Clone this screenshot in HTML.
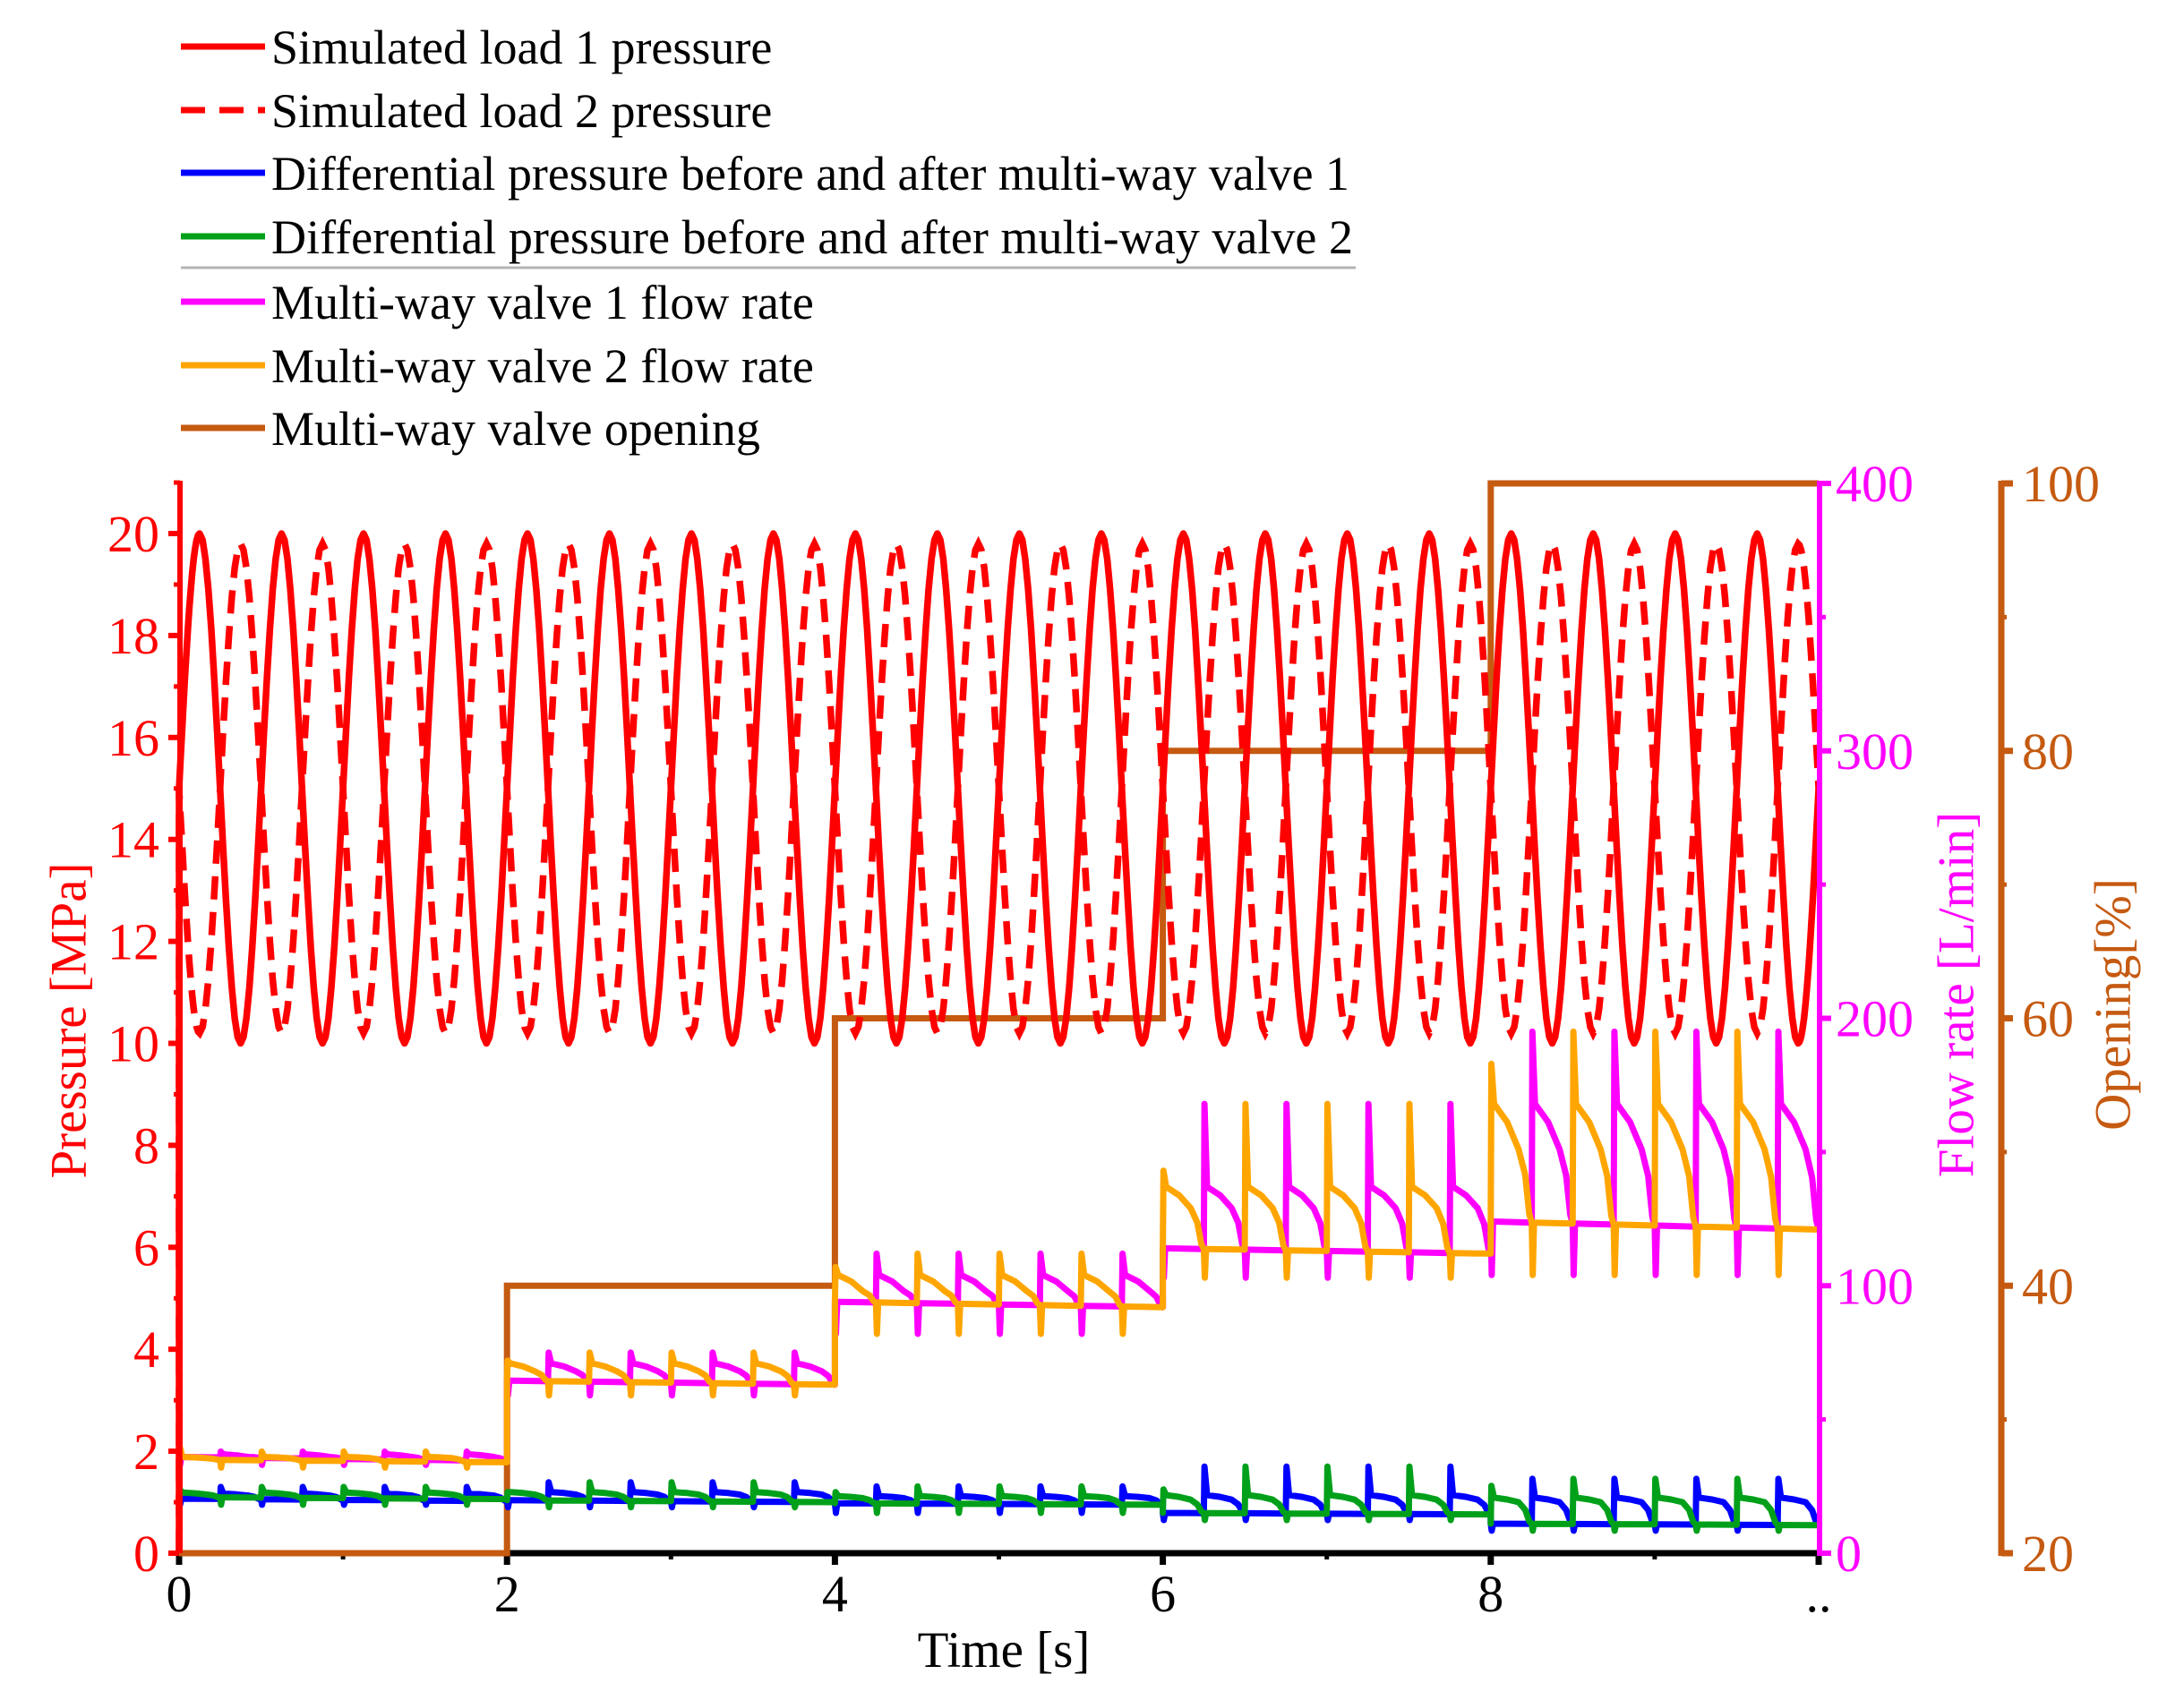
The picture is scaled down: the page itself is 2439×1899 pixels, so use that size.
<!DOCTYPE html>
<html><head><meta charset="utf-8"><style>
html,body{margin:0;padding:0;background:#fff;}
svg{display:block;font-family:"Liberation Serif",serif;}
</style></head><body>
<svg id="chart" width="2439" height="1899" viewBox="0 0 2439 1899" xmlns="http://www.w3.org/2000/svg">
<g id="legend" font-size="54" fill="#000">
  <g><line x1="202" y1="52" x2="296" y2="52" stroke="#ff0000" stroke-width="7"/><text x="303" y="71">Simulated load 1 pressure</text></g>
  <g><line x1="202" y1="123" x2="296" y2="123" stroke="#ff0000" stroke-width="7" stroke-dasharray="27 16"/><text x="303" y="142">Simulated load 2 pressure</text></g>
  <g><line x1="202" y1="193" x2="296" y2="193" stroke="#0000ff" stroke-width="7"/><text x="303" y="212" textLength="1204" lengthAdjust="spacingAndGlyphs">Differential pressure before and after multi-way valve 1</text></g>
  <g><line x1="202" y1="264" x2="296" y2="264" stroke="#00a01a" stroke-width="7"/><text x="303" y="283" textLength="1208" lengthAdjust="spacingAndGlyphs">Differential pressure before and after multi-way valve 2</text></g>
  <line x1="202" y1="299" x2="1514" y2="299" stroke="#b4b4b4" stroke-width="3"/>
  <g><line x1="202" y1="337" x2="296" y2="337" stroke="#ff00ff" stroke-width="7"/><text x="303" y="356">Multi-way valve 1 flow rate</text></g>
  <g><line x1="202" y1="408" x2="296" y2="408" stroke="#ffa500" stroke-width="7"/><text x="303" y="427">Multi-way valve 2 flow rate</text></g>
  <g><line x1="202" y1="478" x2="296" y2="478" stroke="#c55a11" stroke-width="7"/><text x="303" y="497">Multi-way valve opening</text></g>
</g>
<g id="axes"></g>
<g id="plot"></g>
<g id="axes2"></g>
<text x="77" y="1140" font-size="57" fill="#ff0000" text-anchor="middle" dominant-baseline="central" transform="rotate(-90 77 1140)">Pressure [MPa]</text>
<text x="2185" y="1111" font-size="57" fill="#ff00ff" text-anchor="middle" dominant-baseline="central" transform="rotate(-90 2185 1111)">Flow rate [L/min]</text>
<text x="2360" y="1122" font-size="57" fill="#c55a11" text-anchor="middle" dominant-baseline="central" transform="rotate(-90 2360 1122)">Opening[%]</text>
<text x="1121" y="1862" font-size="57" fill="#000" text-anchor="middle">Time [s]</text>
</svg>
<script>
// ---- data ----
const segStarts = [0, 2, 4, 6, 8];
const openingVals = [20, 40, 60, 80, 100];
const load1Extrema = [20,10,20,10,20,10,20,10,20,10,20,10,20,10,20,10,20,10,20,10,20,10,20,10,20,10,20,10,20,10,20,10,20,10,20,10,20,10,20,10];
const load2Extrema = [10.2,19.8,10.2,19.8,10.2,19.8,10.2,19.8,10.2,19.8,10.2,19.8,10.2,19.8,10.2,19.8,10.2,19.8,10.2,19.8,10.2,19.8,10.2,19.8,10.2,19.8,10.2,19.8,10.2,19.8,10.2,19.8,10.2,19.8,10.2,19.8,10.2,19.8,10.2,19.8];
const flow1Low = [36, 64.5, 94, 114, 124];
const flow1LowEnd = [34.5, 63, 92, 112, 121];
const flow1Top = [38, 75, 112, 168, 195];
const flow1Plateau = [37, 71, 104, 137, 168];
const flow1PlateauEnd = [36, 68, 98, 129, 151];
const flow1Dip = [33, 59, 82, 103, 104];
const flow2Low = [35, 64.5, 94, 114, 124];
const flow2LowEnd = [34, 63, 92, 112, 121];
const flow2Top = [38, 75, 112, 168, 195];
const flow2First = [40, 72, 107, 143, 183];
const flow2Plateau = [36, 71, 104, 137, 168];
const flow2PlateauEnd = [35.5, 68, 98, 129, 151];
const flow2Dip = [32, 59, 82, 103, 104];
const dp1Low = [1.07, 1.04, 0.98, 0.79, 0.58];
const dp1LowEnd = [1.02, 1.0, 0.95, 0.76, 0.55];
const dp1Top = [1.3, 1.39, 1.31, 1.70, 1.46];
const dp1Plateau = [1.17, 1.2, 1.12, 1.14, 1.09];
const dp1PlateauEnd = [1.13, 1.15, 1.08, 1.05, 1.0];
const dp1Dip = [0.95, 0.9, 0.79, 0.65, 0.44];
const dp2Low = [1.1, 1.04, 0.98, 0.79, 0.58];
const dp2LowEnd = [1.06, 1.0, 0.95, 0.76, 0.55];
const dp2Top = [1.3, 1.39, 1.31, 1.70, 1.46];
const dp2First = [1.25, 1.2, 1.2, 1.25, 1.32];
const dp2Plateau = [1.19, 1.2, 1.12, 1.14, 1.09];
const dp2PlateauEnd = [1.15, 1.15, 1.08, 1.05, 1.0];
const dp2Dip = [0.95, 0.9, 0.79, 0.65, 0.44];
const pressureTicks = [0,2,4,6,8,10,12,14,16,18,20];
const timeTicks = [0,2,4,6,8,10];
const timeTickLabels = ["0","2","4","6","8",".."];
const flowTicks = [0,100,200,300,400];
const openingTicks = [20,40,60,80,100];

// ---- scales ----
const X = t => 200 + t * 183.1;
const YP = p => 1735 - p * 56.95;
const YF = f => 1735 - f * 2.9875;
const YO = o => 1735 - (o - 20) * 14.9375;
const NS = "http://www.w3.org/2000/svg";
const plot = document.getElementById('plot');
const axes = document.getElementById('axes');
const axes2 = document.getElementById('axes2');
function mk(tag, attrs, parent) {
  const e = document.createElementNS(NS, tag);
  for (const k in attrs) e.setAttribute(k, attrs[k]);
  parent.appendChild(e);
  return e;
}
function pathD(pts, yf) {
  return pts.map((p, i) => (i ? 'L' : 'M') + X(p[0]).toFixed(1) + ' ' + yf(p[1]).toFixed(1)).join(' ');
}

// ---- axes (behind) ----
{
  const ax = mk('line', {x1: X(0), y1: 1735, x2: X(10), y2: 1735, stroke: '#000', 'stroke-width': 7}, axes);
  
  
  for (let t = 1; t < 10; t += 2) mk('line', {x1: X(t), y1: 1735, x2: X(t), y2: 1742, stroke: '#000', 'stroke-width': 5}, axes);
  timeTicks.forEach((t, i) => {
    mk('line', {x1: X(t), y1: 1735, x2: X(t), y2: 1748, stroke: '#000', 'stroke-width': 7}, axes);
    const tx = mk('text', {x: X(t), y: 1800, 'font-size': 58, 'text-anchor': 'middle', fill: '#000'}, axes);
    tx.textContent = timeTickLabels[i];
    
    
  });
}
{
  const ax = mk('line', {x1: 201, y1: 537, x2: 201, y2: 1738, stroke: '#ff0000', 'stroke-width': 6}, axes);
  
  
  for (let p = 1; p <= 21; p += 2) mk('line', {x1: 194, y1: YP(p), x2: 201, y2: YP(p), stroke: '#ff0000', 'stroke-width': 5}, axes);
  pressureTicks.forEach(p => {
    mk('line', {x1: 188, y1: YP(p), x2: 201, y2: YP(p), stroke: '#ff0000', 'stroke-width': 6}, axes);
    const tx = mk('text', {x: 178, y: YP(p) + 20, 'font-size': 58, 'text-anchor': 'end', fill: '#ff0000'}, axes);
    tx.textContent = String(p);
    
    
  });
}

// opening step line
{
  const pts = [];
  segStarts.forEach((t0, i) => { pts.push([t0, openingVals[i]]); pts.push([t0 + 2, openingVals[i]]); });
  const el = mk('path', {d: pathD(pts, YO), fill: 'none', stroke: '#c55a11', 'stroke-width': 7, 'stroke-linejoin': 'miter'}, plot);
  
  
}

function valveSeries(isV2, low, lowEnd, top, first, plat, platEnd, dip) {
  const pts = [[0, 0]];
  segStarts.forEach((t0, i) => {
    const lowAt = t => low[i] + (lowEnd[i] - low[i]) * (t - t0) / 2;
    for (let q = 0; q < 8; q++) {
      const tq = t0 + 0.25 * q;
      const own = isV2 ? (q % 2 === 0) : (q % 2 === 1);
      if (own) {
        const tp = (isV2 && q === 0) ? first[i] : top[i];
        const lo = lowAt(tq + 0.25);
        pts.push([tq, lowAt(tq)], [tq + 0.004, tp], [tq + 0.02, plat[i]],
          [tq + 0.1, plat[i] - (plat[i] - platEnd[i]) * 0.4], [tq + 0.17, platEnd[i]],
          [tq + 0.21, platEnd[i] - (platEnd[i] - lo) * 0.35], [tq + 0.235, lo + (platEnd[i] - lo) * 0.12], [tq + 0.25, lo]);
      } else {
        pts.push([tq, lowAt(tq)], [tq + 0.006, dip[i]], [tq + 0.014, lowAt(tq)], [tq + 0.25, lowAt(tq + 0.25)]);
      }
    }
  });
  return pts;
}
function drawSeries(name, pts, yf, color) {
  const el = mk('path', {d: pathD(pts, yf), fill: 'none', stroke: color, 'stroke-width': 7, 'stroke-linejoin': 'round'}, plot);
  
  
}
drawSeries('flow1-line', valveSeries(false, flow1Low, flow1LowEnd, flow1Top, flow1Top, flow1Plateau, flow1PlateauEnd, flow1Dip), YF, '#ff00ff');
drawSeries('flow2-line', valveSeries(true, flow2Low, flow2LowEnd, flow2Top, flow2First, flow2Plateau, flow2PlateauEnd, flow2Dip), YF, '#ffa500');
drawSeries('dp1-line', valveSeries(false, dp1Low, dp1LowEnd, dp1Top, dp1Top, dp1Plateau, dp1PlateauEnd, dp1Dip), YP, '#0000ff');
drawSeries('dp2-line', valveSeries(true, dp2Low, dp2LowEnd, dp2Top, dp2First, dp2Plateau, dp2PlateauEnd, dp2Dip), YP, '#00a01a');

function pressurePts(ext) {
  const pts = [[0, 0], [0, 15]];
  const N = 14;
  for (let k = 1; k <= N; k++) { const u = k / N; pts.push([0.125 * u, 15 + (ext[0] - 15) * Math.sin(Math.PI / 2 * u)]); }
  for (let j = 1; j < ext.length; j++) {
    const ta = 0.125 + 0.25 * (j - 1), a = ext[j - 1], b = ext[j];
    for (let k = 1; k <= N; k++) { const u = k / N; pts.push([ta + 0.25 * u, a + (b - a) * (1 - Math.cos(Math.PI * u)) / 2]); }
  }
  const tl = 0.125 + 0.25 * (ext.length - 1), a = ext[ext.length - 1];
  for (let k = 1; k <= N; k++) { const u = k / N; pts.push([tl + (10 - tl) * u, a + (15 - a) * (1 - Math.cos(Math.PI / 2 * u))]); }
  return pts;
}
{
  const e1 = mk('path', {d: pathD(pressurePts(load1Extrema), YP), fill: 'none', stroke: '#ff0000', 'stroke-width': 7.5, 'stroke-linejoin': 'round'}, plot);
  
  
  const e2 = mk('path', {d: pathD(pressurePts(load2Extrema), YP), fill: 'none', stroke: '#ff0000', 'stroke-width': 7.5, 'stroke-dasharray': '26 14'}, plot);
  
  
}

// ---- right axes (front) ----
{
  const ax = mk('line', {x1: 2032, y1: 537, x2: 2032, y2: 1738, stroke: '#ff00ff', 'stroke-width': 6}, axes2);
  
  
  for (let f = 50; f < 400; f += 100) mk('line', {x1: 2032, y1: YF(f), x2: 2039, y2: YF(f), stroke: '#ff00ff', 'stroke-width': 5}, axes2);
  flowTicks.forEach(f => {
    mk('line', {x1: 2032, y1: YF(f), x2: 2045, y2: YF(f), stroke: '#ff00ff', 'stroke-width': 6}, axes2);
    const tx = mk('text', {x: 2050, y: YF(f) + 20, 'font-size': 58, 'text-anchor': 'start', fill: '#ff00ff'}, axes2);
    tx.textContent = String(f);
    
    
  });
}
{
  const ax = mk('line', {x1: 2235, y1: 537, x2: 2235, y2: 1738, stroke: '#c55a11', 'stroke-width': 7}, axes2);
  
  
  for (let o = 30; o < 100; o += 20) mk('line', {x1: 2235, y1: YO(o), x2: 2241, y2: YO(o), stroke: '#c55a11', 'stroke-width': 5}, axes2);
  openingTicks.forEach(o => {
    mk('line', {x1: 2235, y1: YO(o), x2: 2248, y2: YO(o), stroke: '#c55a11', 'stroke-width': 7}, axes2);
    const tx = mk('text', {x: 2258, y: YO(o) + 20, 'font-size': 58, 'text-anchor': 'start', fill: '#c55a11'}, axes2);
    tx.textContent = String(o);
    
    
  });
}
</script>
</body></html>
